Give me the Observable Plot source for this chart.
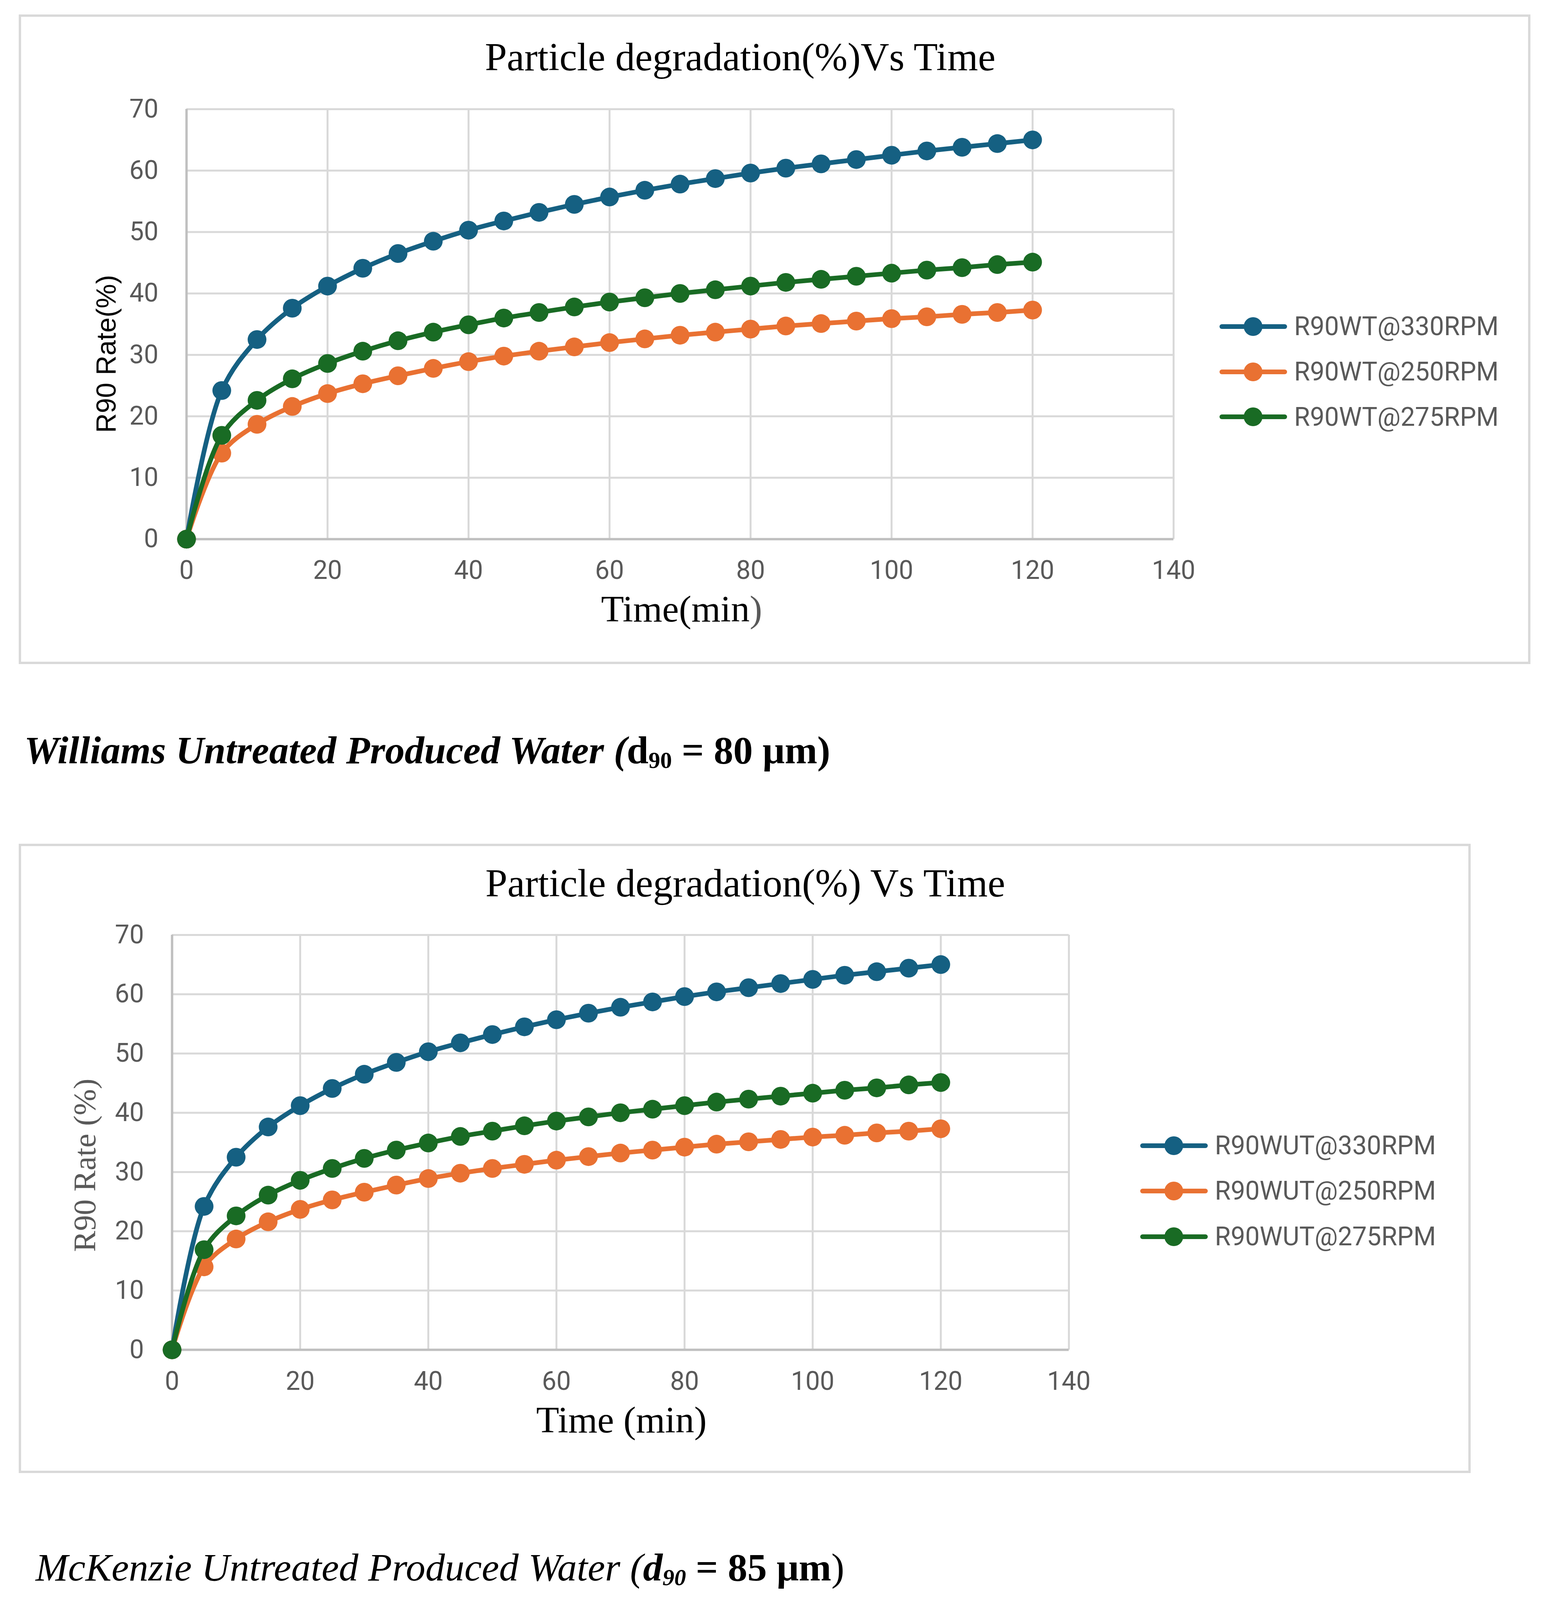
<!DOCTYPE html>
<html lang="en">
<head>
<meta charset="UTF-8">
<title>Particle degradation vs Time</title>
<script src="https://cdn.jsdelivr.net/npm/d3@7"></script>
<script src="https://cdn.jsdelivr.net/npm/@observablehq/plot@0.6"></script>
<style>
  body { margin: 0; background: #fff; overflow: hidden; }
  #page { position: relative; width: 3963px; height: 4975px; overflow: hidden; background: #fff; }
  .abs { position: absolute; white-space: nowrap; line-height: 1; }
  .box { position: absolute; border: 6px solid #d9d9d9; box-sizing: border-box; }
  .serif { font-family: "Liberation Serif", "Times New Roman", serif; }
  .sans { font-family: "Liberation Sans", Arial, sans-serif; }
  .legend { position: absolute; display: flex; align-items: center; font-family: Roboto, sans-serif; font-size: 66px; color: #595959; }
  .legend svg { margin-right: 18px; }
  sub { font-size: 0.6em; vertical-align: -0.2em; line-height: 0; }
</style>
</head>
<body>
<div id="page"></div>

<script>
// time in minutes
const time = [0, 5, 10, 15, 20, 25, 30, 35, 40, 45, 50, 55, 60, 65, 70, 75, 80, 85, 90, 95, 100, 105, 110, 115, 120];

// R90 rate (%) per speed
const r330 = [0, 24.2, 32.5, 37.6, 41.2, 44.1, 46.5, 48.5, 50.3, 51.8, 53.2, 54.5, 55.7, 56.8, 57.8, 58.7, 59.6, 60.4, 61.1, 61.8, 62.5, 63.2, 63.8, 64.4, 65.0];
const r250 = [0, 14.0, 18.7, 21.6, 23.7, 25.3, 26.6, 27.8, 28.9, 29.8, 30.6, 31.3, 32.0, 32.6, 33.2, 33.7, 34.2, 34.7, 35.1, 35.5, 35.9, 36.2, 36.6, 36.9, 37.3];
const r275 = [0, 16.9, 22.6, 26.1, 28.6, 30.6, 32.3, 33.7, 34.9, 36.0, 36.9, 37.8, 38.6, 39.3, 40.0, 40.6, 41.2, 41.8, 42.3, 42.8, 43.3, 43.8, 44.2, 44.7, 45.1];

const namesWT = ["R90WT@330RPM", "R90WT@250RPM", "R90WT@275RPM"];
const namesWUT = ["R90WUT@330RPM", "R90WUT@250RPM", "R90WUT@275RPM"];
const colors = ["#156082", "#E97132", "#196B24"];

const xTicks = [0, 20, 40, 60, 80, 100, 120, 140];
const yTicks = [0, 10, 20, 30, 40, 50, 60, 70];

const seriesVals = [r330, r250, r275];

// layout is written for a 4975px tall page; squeeze it vertically if the window is shorter
const page = document.getElementById("page");
const H = Math.min(window.innerHeight || 4975, 4975);
const ky = H / 4975;
const Y = y => y * ky;
page.style.height = H + "px";

function box(x0, y0, x1, y1) {
  const d = document.createElement("div");
  d.className = "box";
  Object.assign(d.style, {left: x0 + "px", top: Y(y0) + "px", width: (x1 - x0) + "px", height: (Y(y1) - Y(y0)) + "px"});
  page.appendChild(d);
}

// horizontal text, placed by its baseline
function text(html, o) {
  const d = document.createElement("div");
  d.className = "abs " + o.cls;
  d.innerHTML = html;
  d.style.fontSize = o.size + "px";
  d.style.left = o.x + "px";
  d.style.top = (Y(o.baseline) - 0.84 * o.size) + "px";
  if (o.middle) d.style.transform = "translateX(-50%)";
  if (o.color) d.style.color = o.color;
  page.appendChild(d);
}

// vertical axis title, placed by its centre
function vtext(html, o) {
  const d = document.createElement("div");
  d.className = "abs " + o.cls;
  d.innerHTML = html;
  d.style.fontSize = (o.size * ky) + "px";
  d.style.left = o.x + "px";
  d.style.top = Y(o.cy) + "px";
  d.style.transform = "translate(-50%,-50%) rotate(-90deg)";
  if (o.color) d.style.color = o.color;
  page.appendChild(d);
}

function makeChart(o) {
  const padX = (o.tickY - o.y1) * ky - 23;
  const marks = [
    Plot.gridX(xTicks, {stroke: "#d9d9d9", strokeWidth: 5, strokeOpacity: 1}),
    Plot.gridY(yTicks, {stroke: "#d9d9d9", strokeWidth: 5, strokeOpacity: 1}),
    Plot.ruleX([0], {stroke: "#bfbfbf", strokeWidth: 6}),
    Plot.ruleY([0], {stroke: "#bfbfbf", strokeWidth: 6}),
    Plot.axisX(xTicks, {tickSize: 0, tickPadding: padX, label: null, fill: "#595959"}),
    Plot.axisY(yTicks, {tickSize: 0, tickPadding: 72, label: null, fill: "#595959"})
  ];
  seriesVals.forEach((vals, i) => {
    const rows = time.map((t, j) => ({t, v: vals[j]}));
    marks.push(Plot.line(rows, {x: "t", y: "v", stroke: colors[i], strokeWidth: 12, curve: "catmull-rom"}));
    marks.push(Plot.dot(rows, {x: "t", y: "v", fill: colors[i], r: 24}));
  });
  const ml = 170, mr = 100, mt = 40, mb = 160;
  const svg = Plot.plot({
    width: (o.x1 - o.x0) + ml + mr,
    height: (Y(o.y1) - Y(o.y0)) + mt + mb,
    marginLeft: ml,
    marginRight: mr,
    marginTop: mt,
    marginBottom: mb,
    x: {domain: [0, 140]},
    y: {domain: [0, 70]},
    style: {fontFamily: "Roboto, sans-serif", fontSize: "66px", background: "transparent", overflow: "visible"},
    marks
  });
  svg.style.position = "absolute";
  svg.style.left = (o.x0 - ml) + "px";
  svg.style.top = (Y(o.y0) - mt) + "px";
  page.appendChild(svg);
}

function makeLegend(names, x, rowsY) {
  names.forEach((name, i) => {
    const div = document.createElement("div");
    div.className = "legend";
    div.style.left = x + "px";
    div.style.top = (Y(rowsY[i]) - 30) + "px";
    div.style.height = "60px";
    div.innerHTML =
      `<svg width="173" height="60"><line x1="6" x2="167" y1="30" y2="30" stroke="${colors[i]}" stroke-width="12" stroke-linecap="round"/>` +
      `<circle cx="86" cy="30" r="24" fill="${colors[i]}"/></svg><span>${name}</span>`;
    page.appendChild(div);
  });
}

// Williams chart
box(48, 45, 3918, 2065);
text("Particle degradation(%)Vs Time", {cls: "serif", size: 101, x: 1895, baseline: 220, middle: true});
makeChart({x0: 477, x1: 3004, y0: 339, y1: 1676, tickY: 1770});
text('Time(min<span style="color:#595959">)</span>', {cls: "serif", size: 96, x: 1745, baseline: 1933, middle: true});
vtext("R90 Rate(%)", {cls: "sans", size: 85, x: 272, cy: 1101});
makeLegend(namesWT, 3122, [1015, 1156, 1296]);
text("<b><i>Williams Untreated Produced Water (</i>d<sub>90</sub> = 80 μm)</b>", {cls: "serif", size: 100, x: 62, baseline: 2374});

// McKenzie chart
box(48, 2623, 3765, 4580);
text("Particle degradation(%) Vs Time", {cls: "serif", size: 101, x: 1908, baseline: 2788, middle: true});
makeChart({x0: 440, x1: 2736, y0: 2907, y1: 4197, tickY: 4293});
text("Time (min)", {cls: "serif", size: 96, x: 1591, baseline: 4455, middle: true});
vtext("R90 Rate (%)", {cls: "serif", size: 98, x: 217, cy: 3623, color: "#595959"});
makeLegend(namesWUT, 2919, [3562, 3703, 3845]);
text("<i>McKenzie Untreated Produced Water (<b>d<sub>90</sub></b></i><b> = 85 μm</b>)", {cls: "serif", size: 100, x: 91, baseline: 4915});
</script>
</body>
</html>
